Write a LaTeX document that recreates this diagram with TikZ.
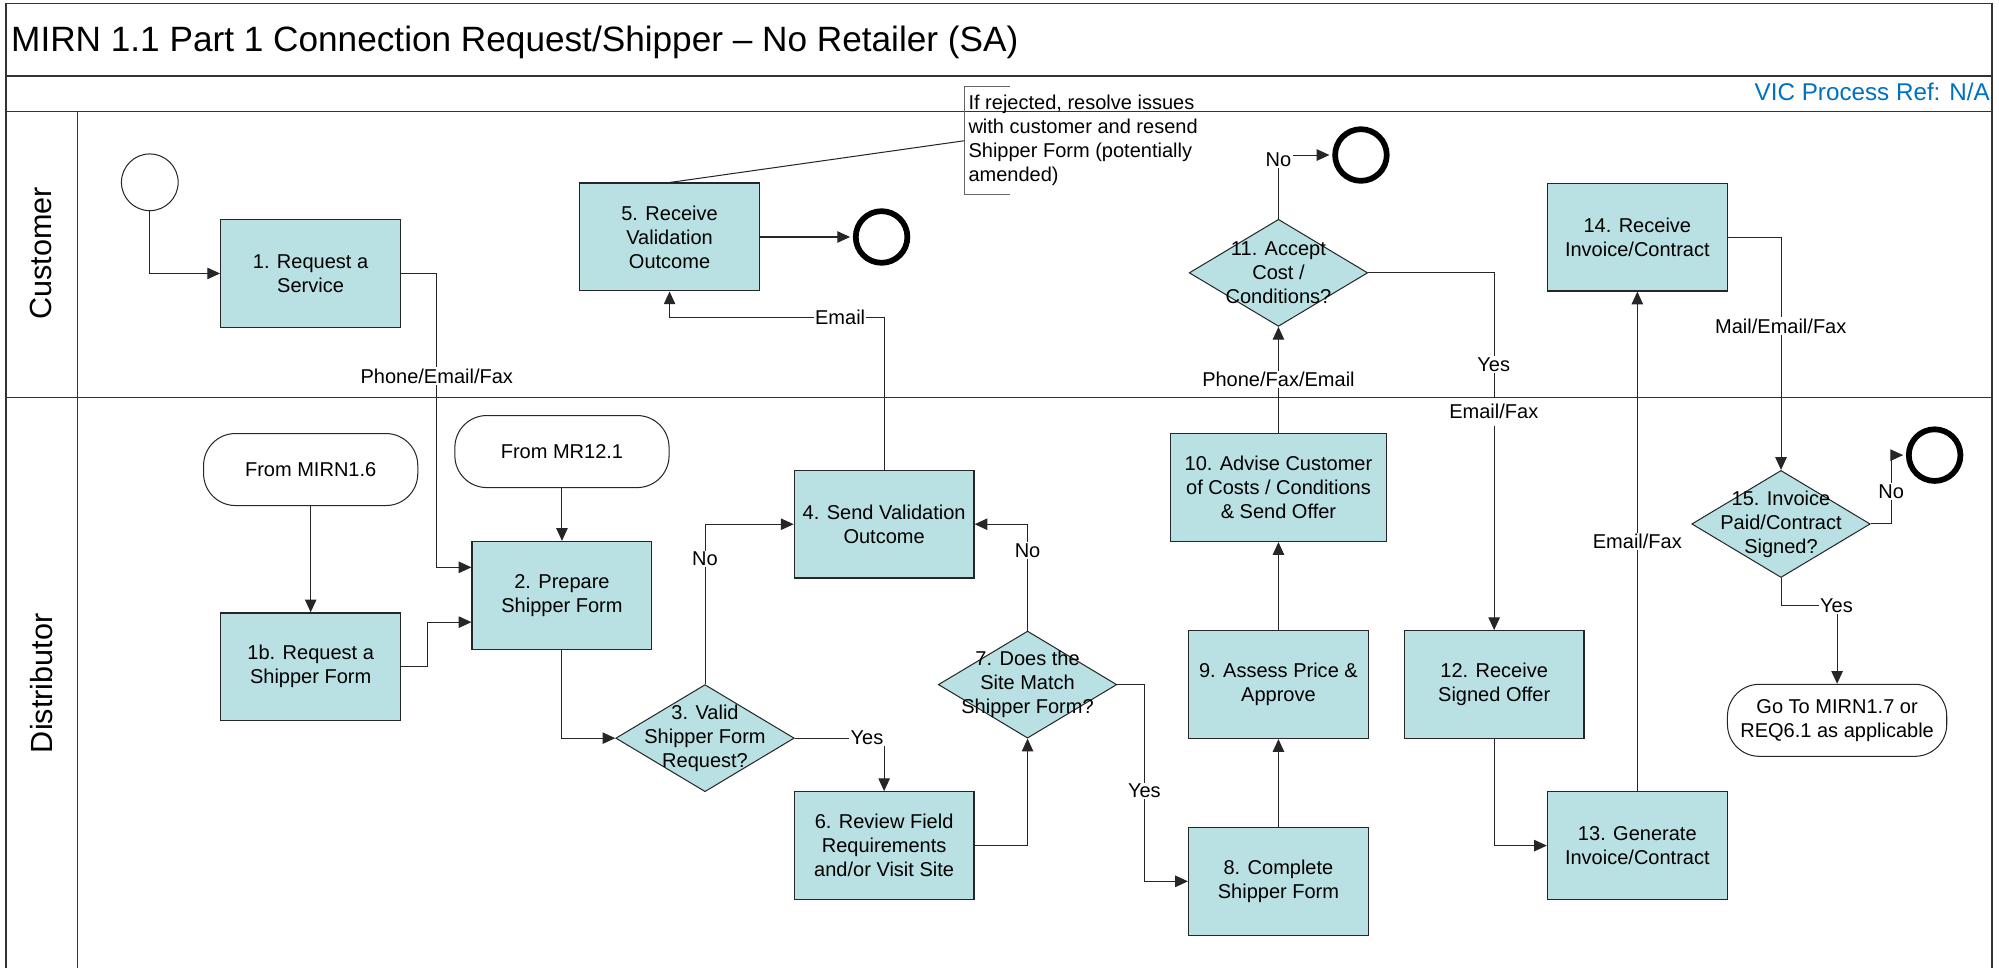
\documentclass[tikz,border=0pt]{standalone}
\usepackage{fontspec}
\setmainfont{Liberation Sans}
\usetikzlibrary{arrows.meta,shapes.geometric}
\definecolor{procfill}{RGB}{185,224,227}
\definecolor{refblue}{RGB}{0,112,192}
\newcommand\nodefont{\fontsize{15.7}{18.8}\selectfont}

\begin{document}
\begin{tikzpicture}[x=1pt,y=-1pt,
  frame/.style={draw=black!80, line width=1.1pt},
  proc/.style={rectangle, draw=black!85, line width=1pt, fill=procfill,
    minimum width=141pt, minimum height=84.5pt, inner sep=2pt,
    align=center, font=\nodefont},
  dec/.style={diamond, draw=black!85, line width=0.8pt, fill=procfill,
    minimum width=140pt, minimum height=84pt, inner sep=0pt},
  dtext/.style={align=center, font=\nodefont, inner sep=0pt},
  term/.style={rectangle, rounded corners=25pt, draw=black!85, line width=0.8pt,
    fill=white, minimum width=168pt, minimum height=56.5pt, inner sep=2pt,
    align=center, font=\nodefont},
  endc/.style={circle, draw=black, line width=4.5pt, fill=white,
    minimum size=40.5pt, inner sep=0pt},
  startc/.style={circle, draw=black!85, line width=0.8pt, fill=white,
    minimum size=44.5pt, inner sep=0pt},
  conn/.style={draw=black!85, line width=0.8pt},
  arr/.style={conn, -{Triangle[length=10pt,width=9pt]}},
  toend/.style={arr, shorten >=2.2pt},
  lbl/.style={fill=white, inner sep=1pt, font=\nodefont},
  lanefont/.style={font=\fontsize{24}{28}\selectfont},
]
\useasboundingbox (0,0) rectangle (1568,759.3);

% swimlane frame
\draw[frame] (4.7,759.3) -- (4.7,2.6) -- (1562.6,2.6) -- (1562.6,759.3);
\draw[frame] (4.7,59.6) -- (1562.6,59.6);
\draw[frame] (4.7,87.3) -- (1562.6,87.3);
\draw[frame] (4.7,311.9) -- (1562.6,311.9);
\draw[frame, line width=0.8pt] (61,87.3) -- (61,759.3);

% headings
\node[anchor=base west, inner sep=0pt, font=\fontsize{27.6}{33}\selectfont] (title)
  at (8.6,40.5) {MIRN 1.1 Part 1 Connection Request/Shipper – No Retailer (SA)};
\node[anchor=base east, inner sep=0pt, text=refblue, font=\fontsize{19}{23}\selectfont] (ref)
  at (1561,79) {VIC Process Ref: N/A};
\node[rotate=90, lanefont] (laneC) at (32.4,198.7) {Customer};
\node[rotate=90, lanefont] (laneD) at (32.4,536) {Distributor};

% process steps
\node[startc] (start) at (117.5,143) {};
\node[proc] (b1) at (243.6,214.5) {1. Request a\\Service};
\node[term] (m16) at (243.7,368.3) {From MIRN1.6};
\node[proc] (b1b) at (243.7,523) {1b. Request a\\Shipper Form};
\node[term] (m121) at (440.8,354.2) {From MR12.1};
\node[proc] (b2) at (440.8,467) {2. Prepare\\Shipper Form};
\node[dec] (d3) at (553,579) {};
\node[dtext] (d3t) at (d3) {3. Valid\\Shipper Form\\Request?};
\node[proc] (b4) at (693.5,411.2) {4. Send Validation\\Outcome};
\node[proc] (b5) at (525.2,185.9) {5. Receive\\Validation\\Outcome};
\node[endc] (e1) at (691.5,185.9) {};
\node[proc] (b6) at (693.5,663.3) {6. Review Field\\Requirements\\and/or Visit Site};
\node[dec] (d7) at (806,537) {};
\node[dtext] (d7t) at (d7) {7. Does the\\Site Match\\Shipper Form?};
\node[proc] (b8) at (1002.8,691.3) {8. Complete\\Shipper Form};
\node[proc] (b9) at (1002.8,537) {9. Assess Price \&\\Approve};
\node[proc, minimum width=169pt] (b10) at (1002.8,382.5) {10. Advise Customer\\of Costs / Conditions\\\& Send Offer};
\node[dec] (d11) at (1002.8,214) {};
\node[dtext] (d11t) at (d11) {11. Accept\\Cost /\\Conditions?};
\node[endc] (e2) at (1067.5,121.6) {};
\node[proc] (b12) at (1172,537) {12. Receive\\Signed Offer};
\node[proc] (b13) at (1284.3,663.3) {13. Generate\\Invoice/Contract};
\node[proc] (b14) at (1284.3,186) {14. Receive\\Invoice/Contract};
\node[dec] (d15) at (1397,411) {};
\node[dtext] (d15t) at (d15) {15. Invoice\\Paid/Contract\\Signed?};
\node[endc] (e3) at (1517.5,357) {};
\node[term, minimum width=172pt] (goto) at (1441,565) {Go To MIRN1.7 or\\REQ6.1 as applicable};

% bend points
\coordinate (j1) at (342.6,445);
\coordinate (j2) at (335,488);
\coordinate (j3) at (897.6,537);
\coordinate (j4) at (1483.4,411);
\coordinate (j5) at (1397,474.6);
\coordinate (j6) at (693.5,249);

% flows
\draw[arr] (start.south) |- (b1.west);
\draw[arr] (b1.east) -| (j1) -- (j1 -| b2.west);
\draw[arr] (m16.south) -- (b1b.north);
\draw[arr] (m121.south) -- (b2.north);
\draw[arr] (b1b.east) -| (j2) -- (j2 -| b2.west);
\draw[arr] (b2.south) |- (d3.west);
\draw[arr] (d3.north) |- (b4.west);
\draw[arr] (d3.east) -| (b6.north);
\draw[arr] (b6.east) -| (d7.south);
\draw[arr] (d7.north) |- (b4.east);
\draw[arr] (d7.east) -- (j3) |- (b8.west);
\draw[arr] (b8.north) -- (b9.south);
\draw[arr] (b9.north) -- (b10.south);
\draw[arr] (b10.north) -- (d11.south);
\draw[toend] (d11.north) |- (e2.west);
\draw[arr] (d11.east) -| (b12.north);
\draw[arr] (b12.south) |- (b13.west);
\draw[arr] (b13.north) -- (b14.south);
\draw[arr] (b14.east) -| (d15.north);
\draw[toend] (d15.east) -- (j4) |- (e3.west);
\draw[arr] (d15.south) -- (j5) -| (goto.north);
\draw[toend] (b5.east) -- (e1.west);
\draw[arr] (b4.north) -- (j6) -| (b5.south);

% flow labels
\node[lbl] (l1) at (342.6,295) {Phone/Email/Fax};
\node[lbl] (l2) at (553,438.6) {No};
\node[lbl] (l3) at (680,579) {Yes};
\node[lbl] (l4) at (806,432) {No};
\node[lbl] (l5) at (897.6,620.6) {Yes};
\node[lbl] (l6) at (659,249) {Email};
\node[lbl] (l7) at (1002.8,297.5) {Phone/Fax/Email};
\node[lbl] (l8) at (1002.8,125) {No};
\node[lbl] (l9) at (1171.7,286) {Yes};
\node[lbl, inner ysep=5pt] (l10) at (1171.7,323) {Email/Fax};
\node[lbl] (l11) at (1284.3,424.5) {Email/Fax};
\node[lbl] (l12) at (1396.8,255.7) {Mail/Email/Fax};
\node[lbl] (l13) at (1483.4,385.7) {No};
\node[lbl] (l14) at (1440.5,475) {Yes};

% annotation on step 5
\coordinate (an) at (756.4,110.4);
\draw[draw=black!60, line width=0.7pt] (792,68) -- (756.4,68) -- (756.4,152.2) -- (792,152.2);
\draw[conn] (an) -- (b5.north);
\node[anchor=north west, align=left, font=\nodefont, inner sep=0pt] (note)
  at (759.5,74.2) {If rejected, resolve issues\\with customer and resend\\Shipper Form (potentially\\amended)};
\end{tikzpicture}
\end{document}
